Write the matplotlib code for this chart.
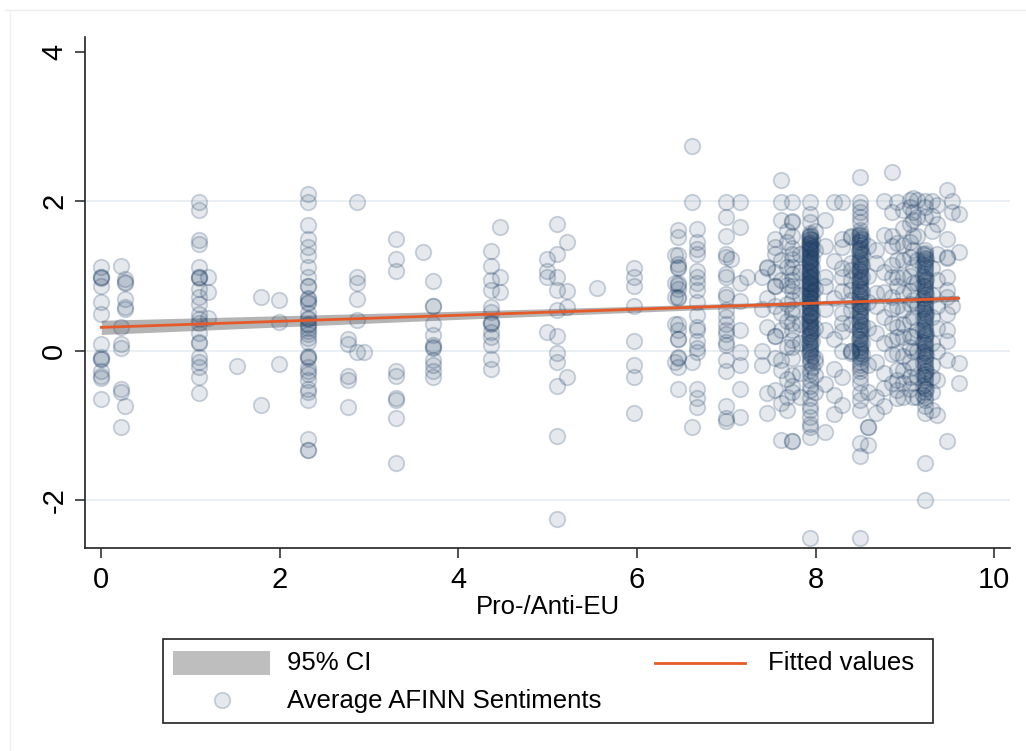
import matplotlib.pyplot as plt
from matplotlib.patches import Rectangle

plt.rcParams['font.family'] = ['Liberation Sans', 'DejaVu Sans']
plt.rcParams['axes.unicode_minus'] = False

# ===== Data: Pro-/Anti-EU score (x) and average AFINN sentiment (y) =====
# each entry of *_x is a column of points, *_y holds the sentiments read at it
left_x = [0.0, 0.22, 0.27, 1.09, 1.2, 1.52, 1.79, 1.99, 2.31, 2.76, 2.86, 2.94,
          3.30, 3.60, 3.71, 4.36, 4.46, 4.99, 5.10, 5.22, 5.55, 5.96]
left_y = [
    [1.12, 0.98, 0.98, 0.97, 0.87, 0.65, 0.49, 0.09, -0.09, -0.11, -0.12, -0.27, -0.34, -0.37, -0.65],
    [1.13, 0.31, 0.09, 0.04, -0.51, -0.56, -1.02],
    [0.96, 0.92, 0.90, 0.69, 0.58, 0.56, -0.74],
    [1.99, 1.88, 1.48, 1.43, 1.12, 0.99, 0.98, 0.97, 0.83, 0.72, 0.63, 0.49, 0.42, 0.37,
     0.23, 0.12, 0.10, -0.09, -0.16, -0.22, -0.36, -0.57],
    [0.98, 0.78, 0.43],
    [-0.21],
    [0.72, -0.73],
    [0.68, 0.38, -0.18],
    [2.10, 1.99, 1.68, 1.50, 1.39, 1.28, 1.12, 0.98, 0.87, 0.86, 0.70, 0.69, 0.65, 0.64,
     0.50, 0.44, 0.42, 0.36, 0.34, 0.30, 0.26, 0.22, 0.17, 0.12, -0.08, -0.09, -0.10,
     -0.22, -0.27, -0.32, -0.40, -0.51, -0.55, -0.67, -1.19, -1.34, -1.33],
    [0.16, 0.09, -0.34, -0.40, -0.76],
    [1.99, 0.98, 0.90, 0.69, 0.41, -0.02],
    [-0.02],
    [1.49, 1.23, 1.07, -0.27, -0.34, -0.64, -0.66, -0.91, -1.51],
    [1.32],
    [0.93, 0.60, 0.59, 0.35, 0.21, 0.07, 0.04, 0.05, -0.13, -0.20, -0.27, -0.36],
    [1.34, 1.13, 0.95, 0.81, 0.58, 0.51, 0.38, 0.37, 0.36, 0.25, 0.18, 0.07, -0.11, -0.25],
    [1.66, 0.98, 0.78],
    [1.23, 1.07, 0.98, 0.25],
    [1.69, 1.30, 0.98, 0.81, 0.54, 0.19, -0.04, -0.16, -0.48, -1.15, -2.26],
    [1.45, 0.80, 0.58, -0.35],
    [0.84],
    [1.10, 0.98, 0.86, 0.60, 0.13, -0.20, -0.36, -0.84],
]

mid_x = [6.42, 6.46, 6.62, 6.67, 7.0, 7.05, 7.15, 7.23, 7.40, 7.45, 7.54, 7.61, 7.68, 7.73, 7.82]
mid_y = [
    [1.28, 0.90, 0.72, 0.36, -0.16],
    [1.61, 1.52, 1.28, 1.16, 1.12, 1.10, 0.90, 0.88, 0.83, 0.72, 0.70, 0.36, 0.27, 0.16,
     0.15, -0.09, -0.10, -0.22, -0.51],
    [2.74, 1.99, -0.16, -1.02],
    [1.63, 1.45, 1.36, 1.30, 1.07, 0.98, 0.90, 0.81, 0.65, 0.47, 0.31, 0.27, 0.13, 0.04,
     -0.02, -0.51, -0.63, -0.76],
    [1.99, 1.79, 1.54, 1.30, 1.25, 1.03, 0.98, 0.76, 0.72, 0.54, 0.45, 0.36, 0.27, 0.22,
     0.11, 0.07, -0.13, -0.27, -0.74, -0.90, -0.94],
    [1.23],
    [1.99, 1.66, 0.90, 0.67, 0.27, -0.02, -0.20, -0.51, -0.89],
    [0.98],
    [0.98, 0.55, 0.00, -0.20],
    [1.12, 1.10, 0.70, 0.32, -0.57, -0.84],
    [1.50, 1.39, 1.30, 1.05, 0.86, 0.86, 0.60, 0.19, 0.19, -0.10, -0.53],
    [2.28, 1.99, 1.75, 1.21, 0.95, 0.50, 0.27, -0.13, -0.26, -0.70, -1.20],
    [1.60, 1.45, 1.12, 0.88, 0.62, 0.40, 0.05, -0.38, -0.62, -0.80],
    [1.99, 1.74, 1.72, 1.53, 1.38, 1.30, 1.22, 1.12, 1.02, 0.95, 0.87, 0.80, 0.68, 0.56,
     0.50, 0.37, 0.27, 0.14, 0.05, -0.10, -0.33, -0.47, -0.55, -1.21, -1.21],
    [1.30, 1.05, 0.74, 0.35, 0.10, -0.30, -0.62],
]

right_x = [7.94, 7.99, 8.10, 8.20, 8.30, 8.40, 8.50, 8.59, 8.67, 8.76, 8.85, 8.91, 8.98,
           9.06, 9.09, 9.13, 9.22, 9.30, 9.36, 9.47, 9.53, 9.61]
right_y = [
    [1.99, 1.83, 1.72, 1.57, 1.55, 1.54, 1.50, 1.49, 1.46, 1.44, 1.41, 1.40, 1.37, 1.35,
     1.33, 1.31, 1.28, 1.27, 1.24, 1.21, 1.20, 1.17, 1.15, 1.13, 1.10, 1.08, 1.05, 1.04,
     1.01, 0.99, 0.97, 0.95, 0.92, 0.90, 0.89, 0.86, 0.84, 0.81, 0.79, 0.77, 0.74, 0.72,
     0.70, 0.67, 0.64, 0.62, 0.59, 0.57, 0.55, 0.52, 0.49, 0.47, 0.45, 0.41, 0.38, 0.36,
     0.33, 0.30, 0.27, 0.24, 0.22, 0.18, 0.15, 0.11, 0.08, 0.05, 0.02, -0.01, -0.05,
     -0.10, -0.13, -0.17, -0.26, -0.31, -0.40, -0.47, -0.53, -0.64, -0.75, -0.80, -0.89,
     -0.98, -1.02, -1.16, -2.51],
    [1.60, 1.35, 0.82, 0.30, -0.10, -0.15, -0.33, -0.55],
    [1.75, 1.40, 0.99, 0.86, 0.55, 0.27, -0.45, -1.09],
    [1.99, 1.20, 0.70, 0.15, -0.25, -0.60, -0.85],
    [1.99, 1.50, 1.39, 1.10, 0.99, 0.80, 0.50, 0.37, 0.26, -0.01, -0.35, -0.73],
    [1.54, 1.52, 1.17, 1.08, 0.95, 0.81, 0.68, 0.54, 0.35, 0.00, 0.00, -0.03],
    [2.33, 1.99, 1.92, 1.85, 1.79, 1.72, 1.61, 1.58, 1.55, 1.51, 1.48, 1.46, 1.42, 1.38,
     1.36, 1.33, 1.29, 1.26, 1.22, 1.19, 1.16, 1.12, 1.09, 1.06, 1.03, 0.99, 0.96, 0.93,
     0.89, 0.86, 0.83, 0.80, 0.76, 0.73, 0.70, 0.66, 0.63, 0.60, 0.56, 0.53, 0.49, 0.46,
     0.43, 0.39, 0.36, 0.32, 0.29, 0.26, 0.22, 0.19, 0.15, 0.12, 0.08, 0.05, 0.01, 0.00,
     -0.03, -0.07, -0.10, -0.15, -0.19, -0.24, -0.28, -0.35, -0.44, -0.57, -0.66, -0.80,
     -1.24, -1.42, -2.51],
    [1.40, 1.00, 0.65, 0.30, -0.20, -0.55, -1.02, -1.02, -1.27],
    [1.35, 1.17, 0.77, 0.59, 0.23, -0.15, -0.62, -0.84],
    [2.00, 1.55, 1.05, 0.78, 0.45, 0.10, -0.30, -0.50, -0.75],
    [2.39, 1.86, 1.53, 1.40, 1.15, 0.99, 0.72, 0.55, 0.37, 0.14, -0.05, -0.44],
    [1.99, 1.44, 1.21, 0.99, 0.86, 0.59, 0.32, 0.18, -0.04, -0.26, -0.40, -0.53, -0.64],
    [1.88, 1.64, 1.41, 1.21, 0.99, 0.77, 0.54, 0.36, 0.18, -0.08, -0.26, -0.44, -0.62],
    [2.02, 1.92, 1.70, 1.45, 1.25, 1.00, 0.80, 0.62, 0.40, 0.20, 0.05, -0.15, -0.36, -0.52],
    [2.05, 1.86, 1.75, 1.53, 1.35, 1.12, 0.90, 0.68, 0.45, 0.18, 0.00, -0.22, -0.44, -0.62],
    [2.02, 1.79, 1.53, 1.21, 0.90, 0.59, 0.27, 0.00, -0.35, -0.62],
    [2.01, 1.93, 1.79, 1.35, 1.31, 1.28, 1.24, 1.20, 1.17, 1.13, 1.10, 1.06, 1.02, 0.99,
     0.95, 0.92, 0.88, 0.85, 0.81, 0.78, 0.74, 0.71, 0.67, 0.64, 0.60, 0.57, 0.53, 0.50,
     0.46, 0.43, 0.39, 0.35, 0.32, 0.28, 0.25, 0.21, 0.18, 0.14, 0.10, 0.07, 0.03, 0.00,
     -0.04, -0.08, -0.12, -0.15, -0.19, -0.23, -0.27, -0.31, -0.36, -0.40, -0.45, -0.50,
     -0.55, -0.62, -0.67, -0.75, -0.84, -1.51, -2.01],
    [2.00, 1.80, 1.60, 1.10, 0.75, 0.45, 0.10, -0.20, -0.35, -0.55, -0.80],
    [1.95, 1.70, 1.30, 0.95, 0.60, 0.30, 0.00, -0.40, -0.86],
    [2.15, 1.50, 1.25, 1.24, 0.98, 0.81, 0.72, 0.49, 0.27, 0.13, -0.13, -1.21],
    [2.00, 1.85, 0.60],
    [1.83, 1.32, -0.17, -0.43],
]

# repeated observations in the darkest stretches of the three crowded columns
stack_x = [7.92, 7.96, 8.48, 8.52, 9.20, 9.24]
stack_y = [
    [1.52, 1.43, 1.36, 1.25, 1.18, 1.06, 0.98, 0.91, 0.83, 0.75, 0.66, 0.58, 0.48, 0.40,
     0.31, 0.20, 0.10, -0.02],
    [1.48, 1.38, 1.22, 1.12, 1.00, 0.88, 0.78, 0.69, 0.52, 0.44, 0.26, 0.13, -0.08, -0.22],
    [1.55, 1.45, 1.34, 1.20, 1.08, 0.95, 0.85, 0.74, 0.62, 0.51, 0.40, 0.28, 0.16, 0.03],
    [1.50, 1.30, 1.14, 0.98, 0.79, 0.58, 0.34, 0.10, -0.05],
    [1.30, 1.15, 1.00, 0.86, 0.70, 0.55, 0.42, 0.27, 0.12, -0.02, -0.17, -0.33, -0.48, -0.60],
    [1.22, 0.96, 0.76, 0.49, 0.22, -0.06, -0.28, -0.52],
]

# linear fit and its 95% CI
fit_x = [0, 9.6]
fit_y = [0.31, 0.70]
ci_x = [0, 2, 4, 6, 8, 9.6]
ci_lo = [0.215, 0.316, 0.417, 0.514, 0.605, 0.66]
ci_hi = [0.405, 0.466, 0.527, 0.594, 0.665, 0.74]

# ===== Figure =====
W, H = 1026, 751
fig = plt.figure(figsize=(W / 100, H / 100), dpi=100)
ax = fig.add_axes([85 / W, (H - 548) / H, (1010 - 85) / W, (548 - 37) / H])

navy = (0.10, 0.23, 0.39)
face = navy + (0.11,)
edge = navy + (0.22,)

xs, ys = [], []
for cx, cy in zip(left_x + mid_x + right_x + stack_x, left_y + mid_y + right_y + stack_y):
    xs += [cx] * len(cy)
    ys += cy

ax.fill_between(ci_x, ci_lo, ci_hi, color='#b4b4b4', lw=0, zorder=2)
ax.scatter(xs, ys, s=125, facecolors=[face], edgecolors=[edge], linewidths=1.3, zorder=3)
ax.plot(fit_x, fit_y, color='#e65a2a', lw=2.0, zorder=4)

for g in [-2, 0, 2]:
    ax.axhline(g, color='#e9eff2', lw=1.4, zorder=1)

ax.set_xlim(-0.1825, 10.176)
ax.set_ylim(-2.647, 4.202)
ax.set_xticks([0, 2, 4, 6, 8, 10])
ax.set_yticks([-2, 0, 2, 4])
for s in ['top', 'right']:
    ax.spines[s].set_visible(False)
for s in ['left', 'bottom']:
    ax.spines[s].set_color('#222222')
    ax.spines[s].set_linewidth(1.2)
ax.tick_params(axis='both', direction='out', length=7, width=1.1, color='#222222',
               labelsize=21)
ax.tick_params(axis='x', pad=6)
ax.tick_params(axis='y', pad=5, labelrotation=90)
for lab in ax.get_yticklabels():
    lab.set_va('center')
ax.set_xlabel('Pro-/Anti-EU', fontsize=18.5, labelpad=1)

# ===== Legend (drawn in pixel coordinates) =====
lg = fig.add_axes([0, 0, 1, 1], zorder=5)
lg.set_xlim(0, W)
lg.set_ylim(H, 0)
lg.axis('off')
lg.patch.set_alpha(0)
lg.add_patch(Rectangle((163, 639), 933 - 163, 722.5 - 639, fill=False, ec='#222222', lw=1.2))
lg.add_patch(Rectangle((173, 651), 97, 24, color='#bebebe', lw=0))
lg.text(287, 663, '95% CI', fontsize=18.5, va='center', ha='left')
lg.plot([655, 745], [663, 663], color='#e65a2a', lw=2.0)
lg.text(768, 663, 'Fitted values', fontsize=18.5, va='center', ha='left')
lg.scatter([222], [700], s=125, facecolors=[face], edgecolors=[edge], linewidths=1.3)
lg.text(287, 701, 'Average AFINN Sentiments', fontsize=18.5, va='center', ha='left')

# faint outer frame of the graph region (top and left edges)
lg.plot([5, W], [10, 10], color='#ececec', lw=1)
lg.plot([10, 10], [10, H], color='#f0f0f0', lw=1)

fig.savefig('out.png', dpi=100)
